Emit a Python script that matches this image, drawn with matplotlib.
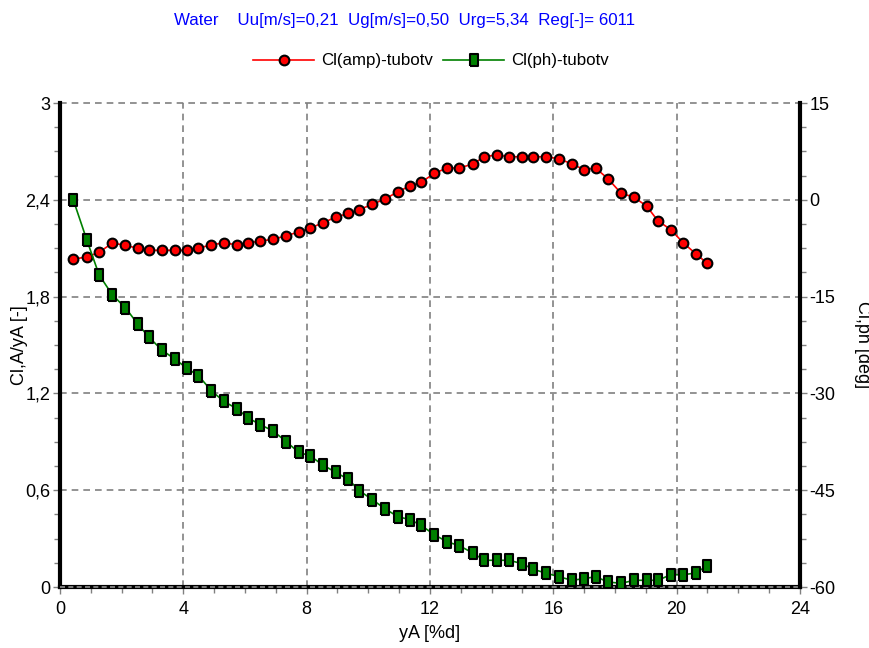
import matplotlib
matplotlib.use("Agg")
import matplotlib.pyplot as plt
from matplotlib.ticker import MultipleLocator, FuncFormatter
from matplotlib.lines import Line2D

plt.rcParams['font.family'] = ['Liberation Sans', 'DejaVu Sans']

yA = [0.43, 0.87, 1.27, 1.70, 2.12, 2.53, 2.88, 3.30, 3.72, 4.12,
      4.49, 4.91, 5.31, 5.74, 6.09, 6.50, 6.92, 7.34, 7.74, 8.10,
      8.53, 8.94, 9.35, 9.71, 10.13, 10.54, 10.96, 11.36, 11.71, 12.14,
      12.55, 12.95, 13.39, 13.76, 14.16, 14.57, 14.99, 15.35, 15.75, 16.18,
      16.60, 17.00, 17.37, 17.78, 18.20, 18.62, 19.03, 19.39, 19.81, 20.22,
      20.63, 20.98]

cl_amp = [2.033, 2.045, 2.075, 2.132, 2.118, 2.099, 2.087, 2.087, 2.087, 2.087,
          2.099, 2.122, 2.132, 2.122, 2.132, 2.145, 2.155, 2.178, 2.200, 2.223,
          2.258, 2.292, 2.316, 2.339, 2.372, 2.405, 2.450, 2.487, 2.508, 2.564,
          2.597, 2.597, 2.622, 2.667, 2.678, 2.667, 2.667, 2.667, 2.667, 2.655,
          2.622, 2.587, 2.597, 2.529, 2.440, 2.416, 2.360, 2.270, 2.215, 2.132,
          2.064, 2.008]

cl_ph = [0.0, -6.23, -11.65, -14.75, -16.72, -19.29, -21.26, -23.27, -24.67, -26.11,
         -27.26, -29.58, -31.23, -32.38, -33.77, -34.85, -35.85, -37.49, -39.13, -39.65,
         -41.10, -42.23, -43.31, -45.08, -46.47, -47.87, -49.11, -49.57, -50.44, -51.90,
         -52.98, -53.60, -54.73, -55.86, -55.86, -55.86, -56.39, -57.26, -57.83, -58.40,
         -58.96, -58.71, -58.40, -59.23, -59.43, -58.96, -58.96, -58.96, -58.09, -58.09,
         -57.83, -56.70]

title_text = "Water    Uu[m/s]=0,21  Ug[m/s]=0,50  Urg=5,34  Reg[-]= 6011"
labels = ["Cl(amp)-tubotv", "Cl(ph)-tubotv"]

FS = 12.2
TFS = 13
fig = plt.figure(figsize=(8.7, 6.48), dpi=100)
ax = fig.add_axes([60/870, 1-587/648, 740/870, 484/648])
ax2 = ax.twinx()

rect = [(-0.72, -1), (0.72, -1), (0.72, 1), (-0.72, 1), (-0.72, -1)]

ax.set_xlim(0, 24)
ax.set_ylim(0, 3)
ax2.set_ylim(-60, 15)

grid_kw = dict(color='#808080', linestyle=(0, (4, 3)), linewidth=1.2)
for xv in [4, 8, 12, 16, 20]:
    ax.axvline(xv, zorder=0.5, **grid_kw)
for yv in [0.6, 1.2, 1.8, 2.4, 3.0]:
    ax.axhline(yv, zorder=0.5, clip_on=False, **grid_kw)

ax.plot(yA, cl_amp, color='red', lw=1.2, marker='o', ms=7.0,
        mfc='red', mec='black', mew=1.5, zorder=3)
ax2.plot(yA, cl_ph, color='#008000', lw=1.2, marker=rect, ms=8.3,
         mfc='#008000', mec='black', mew=1.5, zorder=3)

for a in (ax, ax2):
    a.spines['top'].set_visible(False)
    a.patch.set_visible(False)
ax.spines['left'].set_linewidth(3)
ax.spines['bottom'].set_linewidth(3)
ax2.spines['right'].set_linewidth(3)
ax2.spines['left'].set_visible(False)
ax2.spines['bottom'].set_visible(False)
ax.axhline(0, color='#909090', linestyle=(0, (3, 2)), linewidth=1.2, zorder=5, clip_on=False)

comma = FuncFormatter(lambda v, p: ('%g' % round(v, 2)).replace('.', ','))
ax.xaxis.set_major_locator(MultipleLocator(4))
ax.xaxis.set_minor_locator(MultipleLocator(1))
ax.yaxis.set_major_locator(MultipleLocator(0.6))
ax.yaxis.set_minor_locator(MultipleLocator(0.15))
ax.yaxis.set_major_formatter(comma)
ax2.yaxis.set_major_locator(MultipleLocator(15))
ax2.yaxis.set_minor_locator(MultipleLocator(3.75))
ax2.yaxis.set_major_formatter(FuncFormatter(lambda v, p: '%d' % round(v)))

for a in (ax, ax2):
    a.tick_params(which='both', direction='out', color='#808080', width=1,
                  labelsize=TFS, labelcolor='black')
    a.tick_params(which='major', length=5, pad=2)
    a.tick_params(which='minor', length=4)
ax.tick_params(axis='x', which='major', pad=5)

ax.set_xlabel("yA [%d]", fontsize=TFS, labelpad=5)
ax.set_ylabel("Cl,A/yA [-]", fontsize=TFS, va='center')
ax.yaxis.set_label_coords(-0.055, 0.5)
ax2.set_ylabel("Cl,ph [deg]", fontsize=TFS, rotation=-90, va='center', ha='center')
ax2.yaxis.set_label_coords(1.084, 0.5)

fig.text(405/870, 1-20/648, title_text, color='#0000FF', fontsize=FS,
         ha='center', va='center')

h1 = Line2D([], [], color='red', lw=1.2, marker='o', ms=7.0, mfc='red', mec='black', mew=1.5)
h2 = Line2D([], [], color='#008000', lw=1.2, marker=rect, ms=8.3, mfc='#008000', mec='black', mew=1.5)
fig.legend([h1, h2], labels, loc='center', bbox_to_anchor=(431/870, 1-61/648),
           ncol=2, frameon=False, fontsize=FS, handlelength=3.6,
           handletextpad=0.4, columnspacing=0.6, borderpad=0, borderaxespad=0)

fig.savefig("out.png", dpi=100)
